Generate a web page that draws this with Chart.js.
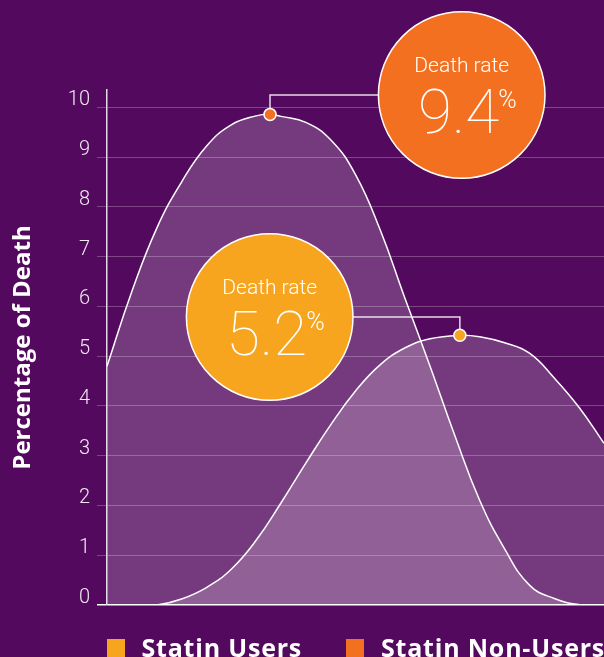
<!DOCTYPE html>
<html>
<head>
<meta charset="utf-8">
<script src="https://cdn.jsdelivr.net/npm/chart.js@4/dist/chart.umd.min.js"></script>
<style>
  html, body { margin: 0; padding: 0; background: #53095D; overflow: hidden; }
  #wrap { width: 604px; height: 657px; position: relative; }
</style>
</head>
<body>
<div id="wrap"><canvas id="c" width="604" height="657"></canvas></div>
<script>
// ---- data ----
const seriesLabels = ['Statin Users', 'Statin Non-Users'];
const seriesColors = ['#F7A51F', '#F37021'];
const deathRates = [5.2, 9.4];

const usersX = [0, 5, 10, 15, 20, 25, 30, 35, 40, 45, 50, 55, 60, 65, 71, 75, 80, 85, 90, 95, 100];
const usersY = [0, 0, 0, 0.12, 0.35, 0.72, 1.3, 2.05, 2.85, 3.62, 4.3, 4.83, 5.17, 5.35, 5.42, 5.39, 5.27, 5.06, 4.56, 3.97, 3.25];
const usersPeakIndex = 14;

const nonUsersX = [0, 5, 10, 15, 20, 25, 30, 32.8, 35, 40, 45, 50, 55, 60, 65, 70, 75, 80, 85, 90, 95, 100];
const nonUsersY = [4.8, 6.3, 7.57, 8.5, 9.22, 9.65, 9.83, 9.86, 9.82, 9.7, 9.35, 8.65, 7.53, 6.15, 4.8, 3.4, 2.1, 1.13, 0.4, 0.13, 0.01, 0];
const nonUsersPeakIndex = 7;

const yTicks = [0, 1, 2, 3, 4, 5, 6, 7, 8, 9, 10];
const yTitle = 'Percentage of Death';
const bubbleLabel = 'Death rate';

// ---- build ----
function pts(xs, ys) { return xs.map((x, i) => ({ x: x, y: ys[i] })); }
function radii(n, peak) { return Array.from({ length: n }, (_, i) => i === peak ? 6 : 0); }

const bubbles = [
  { ds: 0, peak: usersPeakIndex, cx: 269.7, cy: 317, r: 83.3 },
  { ds: 1, peak: nonUsersPeakIndex, cx: 461.7, cy: 95, r: 83.3 }
];

const annot = {
  id: 'annot',
  beforeDatasetsDraw(chart) {
    const ctx = chart.ctx;
    ctx.save();
    ctx.strokeStyle = 'rgba(255,255,255,0.85)';
    ctx.lineWidth = 1.5;
    bubbles.forEach(b => {
      const p = chart.getDatasetMeta(b.ds).data[b.peak];
      ctx.beginPath();
      ctx.moveTo(p.x, p.y);
      ctx.lineTo(p.x, b.cy);
      ctx.lineTo(b.cx, b.cy);
      ctx.stroke();
    });
    ctx.restore();
  },
  afterDatasetsDraw(chart) {
    const ctx = chart.ctx;
    ctx.save();
    bubbles.forEach(b => {
      ctx.beginPath();
      ctx.arc(b.cx, b.cy, b.r, 0, Math.PI * 2);
      ctx.fillStyle = seriesColors[b.ds];
      ctx.fill();
      ctx.lineWidth = 1.5;
      ctx.strokeStyle = '#ffffff';
      ctx.stroke();

      ctx.fillStyle = '#ffffff';
      ctx.textAlign = 'center';
      ctx.textBaseline = 'middle';
      ctx.font = '300 21px Roboto, "Open Sans", sans-serif';
      ctx.fillText(bubbleLabel, b.cx, b.cy - 28);

      const num = deathRates[b.ds].toFixed(1);
      ctx.font = '100 62px Roboto, "Open Sans", sans-serif';
      ctx.textBaseline = 'alphabetic';
      const wN = ctx.measureText(num).width;
      const nx = b.cx - 3;
      ctx.fillText(num, nx, b.cy + 38);
      ctx.font = '300 25px Roboto, "Open Sans", sans-serif';
      ctx.textAlign = 'left';
      ctx.textBaseline = 'alphabetic';
      ctx.fillText('%', nx + wN / 2 - 1, b.cy + 13);
    });

    // legend
    ctx.textAlign = 'left';
    ctx.textBaseline = 'alphabetic';
    ctx.font = '700 25px "Open Sans", sans-serif';
    try { ctx.letterSpacing = '0.8px'; } catch (e) {}
    const legendPos = [{ bx: 107, tx: 141.5 }, { bx: 346, tx: 381 }];
    chart.data.datasets.forEach((ds, i) => {
      ctx.fillStyle = seriesColors[i];
      ctx.fillRect(legendPos[i].bx, 639, 18, 18);
      ctx.fillStyle = '#ffffff';
      ctx.fillText(ds.label, legendPos[i].tx, 657);
    });
    ctx.restore();
  }
};

new Chart(document.getElementById('c'), {
  type: 'line',
  data: {
    datasets: [
      {
        label: seriesLabels[0],
        data: pts(usersX, usersY),
        borderColor: '#ffffff',
        borderWidth: 1.5,
        backgroundColor: 'rgba(255,255,255,0.2)',
        fill: 'origin',
        tension: 0.45,
        pointRadius: radii(usersX.length, usersPeakIndex),
        pointBackgroundColor: seriesColors[0],
        pointBorderColor: '#ffffff',
        pointBorderWidth: 1.5
      },
      {
        label: seriesLabels[1],
        data: pts(nonUsersX, nonUsersY),
        borderColor: '#ffffff',
        borderWidth: 1.5,
        backgroundColor: 'rgba(255,255,255,0.2)',
        fill: 'origin',
        tension: 0.45,
        pointRadius: radii(nonUsersX.length, nonUsersPeakIndex),
        pointBackgroundColor: seriesColors[1],
        pointBorderColor: '#ffffff',
        pointBorderWidth: 1.5
      }
    ]
  },
  options: {
    responsive: false,
    animation: false,
    events: [],
    layout: { padding: { top: 90, bottom: 52, left: 0, right: 0 } },
    plugins: {
      legend: { display: false },
      tooltip: { enabled: false },
      filler: { drawTime: 'beforeDatasetsDraw' }
    },
    scales: {
      x: { type: 'linear', min: 0, max: 100, display: false },
      y: {
        min: 0,
        max: 10.35,
        afterBuildTicks: s => { s.ticks = yTicks.map(v => ({ value: v })); },
        afterFit: s => { s.width = 107; },
        ticks: {
          stepSize: 1,
          color: '#F2EAF3',
          padding: 7,
          labelOffset: -7,
          font: { family: 'Roboto, "Open Sans", sans-serif', size: 20, weight: '300' }
        },
        grid: {
          tickLength: 10,
          color: c => c.tick && c.tick.value === 0 ? '#ffffff' : 'rgba(255,255,255,0.25)',
          lineWidth: c => c.tick && c.tick.value === 0 ? 1.5 : 1
        },
        border: { color: 'rgba(255,255,255,0.85)', width: 1.5 },
        title: {
          display: true,
          text: yTitle,
          color: '#ffffff',
          padding: { top: 9, bottom: 0 },
          font: { family: '"Open Sans", sans-serif', size: 24, weight: '700' }
        }
      }
    }
  },
  plugins: [annot]
});
</script>
</body>
</html>
